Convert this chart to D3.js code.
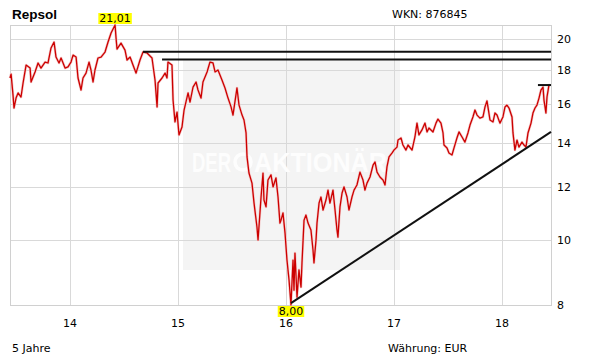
<!DOCTYPE html>
<html>
<head>
<meta charset="utf-8">
<title>Repsol</title>
<script src="https://cdn.jsdelivr.net/npm/d3@7"></script>
<style>
	body { margin: 0; background: #fff; }
	text { font-family: "DejaVu Sans", Verdana, sans-serif; font-size: 11px; fill: #000; }
</style>
</head>
<body>
<div id="chart"></div>
<script>
// Kursverlauf, Zeit in Dezimaljahren
const dates = [
	2013.444, 2013.454, 2013.472, 2013.481, 2013.500, 2013.519, 2013.546, 2013.565, 2013.593, 2013.630,
	2013.639, 2013.676, 2013.704, 2013.731, 2013.769, 2013.796, 2013.824, 2013.852, 2013.870, 2013.898,
	2013.917, 2013.954, 2013.981, 2014.009, 2014.028, 2014.056, 2014.074, 2014.102, 2014.120, 2014.148,
	2014.176, 2014.194, 2014.213, 2014.231, 2014.259, 2014.287, 2014.324, 2014.352, 2014.380, 2014.417,
	2014.426, 2014.435, 2014.472, 2014.509, 2014.528, 2014.556, 2014.583, 2014.611, 2014.648, 2014.676,
	2014.713, 2014.759, 2014.787, 2014.806, 2014.815, 2014.852, 2014.880, 2014.898, 2014.907, 2014.944,
	2014.954, 2014.972, 2014.991, 2015.009, 2015.037, 2015.056, 2015.093, 2015.111, 2015.139, 2015.167,
	2015.185, 2015.213, 2015.231, 2015.269, 2015.296, 2015.324, 2015.343, 2015.370, 2015.407, 2015.435,
	2015.463, 2015.491, 2015.509, 2015.546, 2015.565, 2015.593, 2015.611, 2015.630, 2015.639, 2015.657,
	2015.685, 2015.704, 2015.731, 2015.741, 2015.769, 2015.787, 2015.796, 2015.815, 2015.833, 2015.861,
	2015.880, 2015.907, 2015.926, 2015.944, 2015.954, 2015.972, 2015.991, 2016.009, 2016.028, 2016.046,
	2016.065, 2016.074, 2016.083, 2016.102, 2016.120, 2016.139, 2016.148, 2016.167, 2016.185, 2016.204,
	2016.231, 2016.250, 2016.259, 2016.278, 2016.287, 2016.306, 2016.324, 2016.343, 2016.370, 2016.389,
	2016.407, 2016.435, 2016.454, 2016.472, 2016.481, 2016.500, 2016.519, 2016.537, 2016.565, 2016.583,
	2016.611, 2016.630, 2016.657, 2016.685, 2016.713, 2016.731, 2016.750, 2016.778, 2016.806, 2016.824,
	2016.843, 2016.870, 2016.898, 2016.917, 2016.935, 2016.954, 2016.981, 2017.000, 2017.028, 2017.037,
	2017.065, 2017.083, 2017.111, 2017.130, 2017.167, 2017.194, 2017.213, 2017.231, 2017.259, 2017.287,
	2017.306, 2017.324, 2017.361, 2017.389, 2017.407, 2017.435, 2017.454, 2017.463, 2017.491, 2017.509,
	2017.537, 2017.556, 2017.583, 2017.602, 2017.630, 2017.657, 2017.685, 2017.704, 2017.731, 2017.750,
	2017.769, 2017.796, 2017.824, 2017.843, 2017.861, 2017.870, 2017.889, 2017.917, 2017.935, 2017.954,
	2017.981, 2018.009, 2018.028, 2018.046, 2018.065, 2018.093, 2018.102, 2018.120, 2018.139, 2018.157,
	2018.185, 2018.204, 2018.222, 2018.241, 2018.269, 2018.287, 2018.306, 2018.324, 2018.343, 2018.361,
	2018.380, 2018.389, 2018.407, 2018.417, 2018.435, 2018.444
];
const prices = [
	17.50, 17.74, 16.50, 15.78, 16.33, 16.62, 16.39, 17.20, 18.30, 18.11,
	17.26, 17.87, 18.43, 18.11, 18.49, 18.43, 19.41, 19.81, 18.81, 18.43,
	18.75, 18.11, 18.18, 18.49, 18.94, 18.81, 17.50, 16.79, 17.50, 17.80,
	18.49, 17.99, 17.26, 17.99, 18.75, 18.81, 19.14, 19.81, 20.44, 21.01,
	20.09, 19.34, 19.74, 19.27, 18.62, 18.81, 18.30, 17.80, 18.62, 19.14,
	19.08, 18.75, 17.38, 15.84, 17.20, 17.50, 17.80, 17.50, 18.49, 18.30,
	16.22, 15.04, 15.56, 14.38, 14.78, 15.67, 16.62, 16.11, 16.96, 17.26,
	16.79, 16.33, 17.26, 17.87, 18.49, 18.43, 17.87, 17.99, 17.38, 16.91,
	16.33, 15.84, 15.40, 16.91, 15.94, 15.40, 15.14, 14.48, 13.33, 12.61,
	12.18, 11.37, 10.47, 10.01, 11.61, 12.61, 11.49, 11.22, 12.31, 12.53,
	12.02, 12.40, 11.61, 10.61, 10.72, 10.99, 10.25, 9.34, 8.72, 8.00,
	9.34, 8.42, 9.57, 8.22, 9.03, 8.51, 9.25, 10.72, 10.91, 10.61,
	10.36, 9.67, 9.25, 10.01, 10.61, 11.37, 11.61, 11.10, 11.49, 11.89,
	11.37, 11.89, 11.10, 10.36, 10.11, 11.22, 11.77, 12.02, 11.61, 11.10,
	11.61, 11.89, 12.10, 12.65, 12.31, 11.89, 12.18, 12.44, 12.96, 13.10,
	12.65, 12.44, 12.31, 12.10, 12.88, 13.33, 13.51, 13.65, 13.79, 14.13,
	14.23, 13.89, 13.65, 13.89, 13.65, 14.28, 14.98, 14.38, 14.63, 14.98,
	14.53, 14.73, 14.53, 14.98, 15.19, 14.98, 14.48, 13.89, 13.75, 13.51,
	13.42, 13.75, 14.23, 14.53, 14.28, 14.03, 14.48, 14.88, 15.30, 15.67,
	15.40, 15.24, 15.30, 15.84, 16.17, 15.84, 15.14, 15.04, 15.51, 15.40,
	14.98, 15.30, 15.84, 15.94, 15.78, 15.30, 14.48, 13.65, 14.13, 13.79,
	14.03, 13.89, 13.79, 14.48, 14.98, 15.51, 15.78, 15.94, 16.33, 16.79,
	16.96, 16.22, 15.51, 16.39, 17.08, 17.08
];
const yTicks = [8, 10, 12, 14, 16, 18, 20];
const xTicks = [2014, 2015, 2016, 2017, 2018];

// Widerstaende (waagrecht bis zum rechten Rand)
const resistFrom = [2014.676, 2014.852, 2018.333];
const resistValue = [19.16, 18.66, 17.08];
// Aufwaertstrend
const trendDates = [2016.046, 2018.454];
const trendValues = [8.05, 14.53];

const width = 611, height = 364;
const pLeft = 10, pRight = 551, pTop = 25, pBottom = 305;

let data = dates.map(function(t, i) { return {t: t, v: prices[i]}; });

let x = d3.scaleLinear().domain([2013.444, 2018.454]).range([pLeft, pRight]);
let y = d3.scaleLog().domain([8, d3.max(prices)]).range([pBottom, pTop]);

let svg = d3.select("#chart").append("svg")
	.attr("width", width)
	.attr("height", height);

// Wasserzeichen Hintergrund
svg.append("rect")
	.attr("x", 183).attr("y", 60)
	.attr("width", 217).attr("height", 210)
	.attr("fill", "#f4f4f4");

// Gitter
svg.append("g").selectAll("line")
	.data(yTicks.slice(1))
	.enter().append("line")
	.attr("x1", pLeft).attr("x2", pRight)
	.attr("y1", function(d) { return Math.round(y(d)) + 0.5; })
	.attr("y2", function(d) { return Math.round(y(d)) + 0.5; })
	.attr("stroke", "#d9d9d9");

svg.append("g").selectAll("line")
	.data(xTicks)
	.enter().append("line")
	.attr("x1", function(d) { return Math.round(x(d)) + 0.5; })
	.attr("x2", function(d) { return Math.round(x(d)) + 0.5; })
	.attr("y1", pTop).attr("y2", pBottom)
	.attr("stroke", "#d9d9d9");

svg.append("rect")
	.attr("x", pLeft + 0.5).attr("y", pTop + 0.5)
	.attr("width", pRight - pLeft).attr("height", pBottom - pTop)
	.attr("fill", "none")
	.attr("stroke", "#d0d0d0");

// Wasserzeichen Text
let wm = svg.append("g");
wm.append("text")
	.attr("x", 192).attr("y", 172)
	.attr("textLength", 39)
	.attr("lengthAdjust", "spacingAndGlyphs")
	.style("font-family", "'Liberation Sans', Arial, sans-serif")
	.style("font-weight", "bold").style("font-size", "28px")
	.style("fill", "#fdfdfd")
	.text("DER");
wm.append("circle")
	.attr("cx", 243).attr("cy", 162).attr("r", 8)
	.attr("fill", "none").attr("stroke", "#fdfdfd").attr("stroke-width", 3.5);
wm.append("text")
	.attr("x", 254).attr("y", 172)
	.attr("textLength", 133)
	.attr("lengthAdjust", "spacingAndGlyphs")
	.style("font-family", "'Liberation Sans', Arial, sans-serif")
	.style("font-weight", "bold").style("font-size", "28px")
	.style("fill", "#fdfdfd")
	.text("AKTIONÄR");

// Kurslinie
let line = d3.line()
	.x(function(d) { return x(d.t); })
	.y(function(d) { return y(d.v); });

svg.append("path")
	.datum(data)
	.attr("d", line)
	.attr("fill", "none")
	.attr("stroke", "#f4c8c8")
	.attr("stroke-width", 2.6)
	.attr("stroke-linejoin", "round");
svg.append("path")
	.datum(data)
	.attr("d", line)
	.attr("fill", "none")
	.attr("stroke", "#cc0000")
	.attr("stroke-width", 1.3)
	.attr("stroke-linejoin", "round");

// Widerstandslinien
svg.append("g").selectAll("line")
	.data(resistFrom)
	.enter().append("line")
	.attr("x1", function(d) { return x(d); })
	.attr("x2", pRight)
	.attr("y1", function(d, i) { return y(resistValue[i]); })
	.attr("y2", function(d, i) { return y(resistValue[i]); })
	.attr("stroke", "#111")
	.attr("stroke-width", 2);

// Trendlinie
svg.append("line")
	.attr("x1", x(trendDates[0])).attr("y1", y(trendValues[0]))
	.attr("x2", x(trendDates[1])).attr("y2", y(trendValues[1]))
	.attr("stroke", "#111")
	.attr("stroke-width", 2);

// Achsenbeschriftung
svg.append("g").selectAll("text")
	.data(yTicks)
	.enter().append("text")
	.attr("x", 557)
	.attr("y", function(d) { return y(d); })
	.attr("dy", "0.35em")
	.text(function(d) { return d; });

svg.append("g").selectAll("text")
	.data(xTicks)
	.enter().append("text")
	.attr("x", function(d) { return x(d); })
	.attr("y", 327)
	.attr("text-anchor", "middle")
	.text(function(d) { return String(d).slice(2); });

// Hoch / Tief markieren
let fmt = function(v) { return d3.format(".2f")(v).replace(".", ","); };
let iMax = d3.maxIndex(prices), iMin = d3.minIndex(prices);

function marker(t, v, ty) {
	let g = svg.append("g");
	let bg = g.append("rect").attr("fill", "#ffff00");
	let txt = g.append("text")
		.attr("x", x(t))
		.attr("y", ty)
		.attr("text-anchor", "middle")
		.text(fmt(v));
	let b = txt.node().getBBox();
	bg.attr("x", b.x - 1).attr("y", ty - 9)
		.attr("width", b.width + 2).attr("height", 11);
}
marker(dates[iMax], prices[iMax], 22);
marker(dates[iMin], prices[iMin], 315);

// Texte
svg.append("text")
	.attr("x", 12).attr("y", 19)
	.style("font-family", "'Liberation Sans', Arial, sans-serif")
	.style("font-weight", "bold").style("font-size", "13.5px")
	.text("Repsol");
svg.append("text").attr("x", 392).attr("y", 18).text("WKN: 876845");
svg.append("text").attr("x", 12).attr("y", 352).text("5 Jahre");
svg.append("text").attr("x", 388).attr("y", 352).text("Währung: EUR");
</script>
</body>
</html>
